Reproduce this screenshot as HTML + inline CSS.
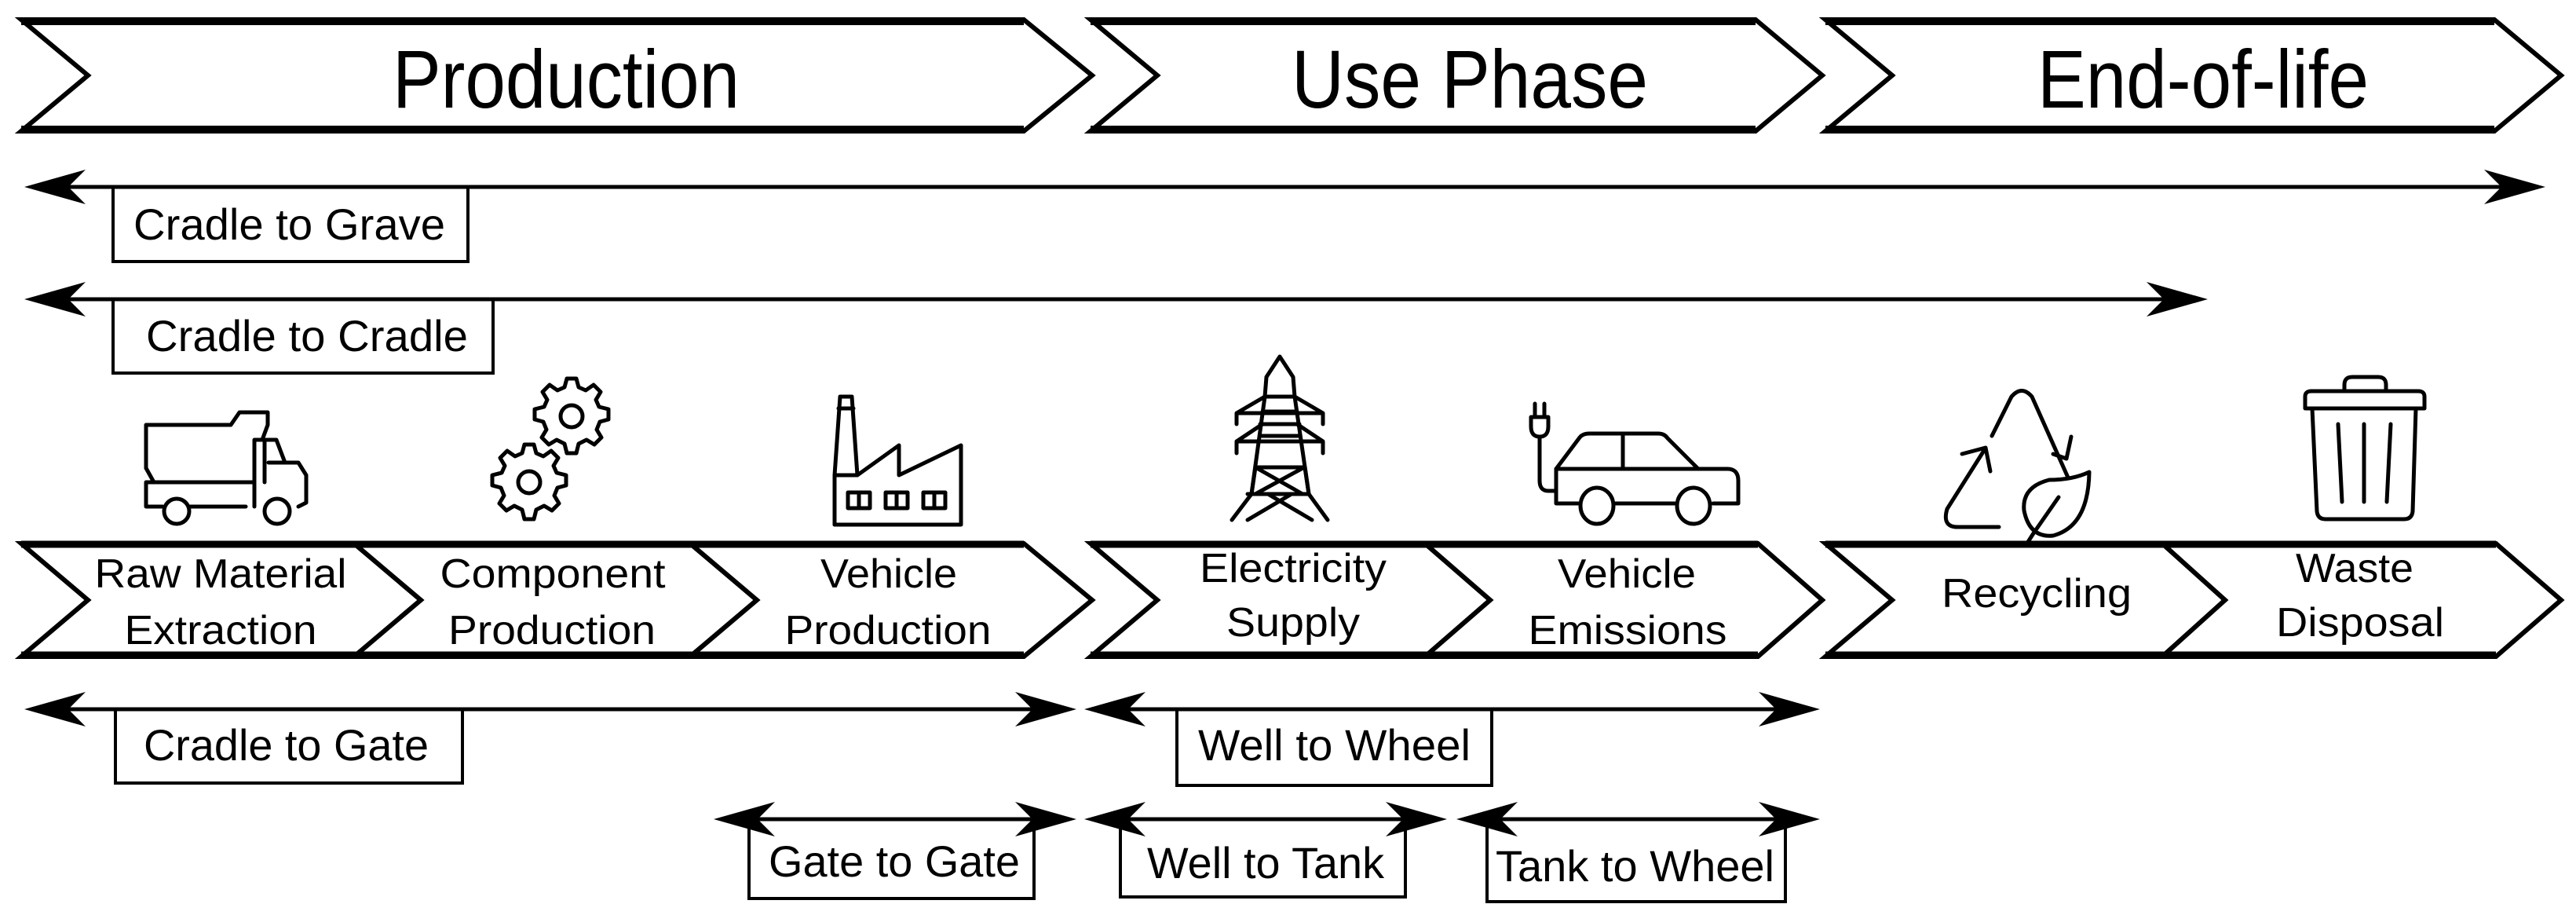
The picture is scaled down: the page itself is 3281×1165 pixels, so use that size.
<!DOCTYPE html>
<html><head><meta charset="utf-8"><style>
html,body{margin:0;padding:0;background:#fff;}
svg{display:block;}
text{font-family:"Liberation Sans",sans-serif;fill:#000;}
</style></head><body>
<svg width="3281" height="1165" viewBox="0 0 3281 1165" xmlns="http://www.w3.org/2000/svg">
<defs>
<path id="ahR" d="M0,0 L-78,-22 L-56,0 L-78,22 Z"/>
<path id="ahL" d="M0,0 L78,-22 L56,0 L78,22 Z"/>
</defs>
<g fill="#fff" stroke="#000" stroke-width="6" stroke-linejoin="miter">
<polygon points="27,25 1304,25 1391,96 1304,167 27,167 112,96"/>
<polygon points="1389,25 2236,25 2321,96 2236,167 1389,167 1474,96"/>
<polygon points="2325,25 3177,25 3262,96 3177,167 2325,167 2410,96"/>
</g>
<g stroke="#000" stroke-width="10">
<line x1="27" y1="27" x2="1304" y2="27"/><line x1="27" y1="165" x2="1304" y2="165"/>
<line x1="1389" y1="27" x2="2236" y2="27"/><line x1="1389" y1="165" x2="2236" y2="165"/>
<line x1="2325" y1="27" x2="3177" y2="27"/><line x1="2325" y1="165" x2="3177" y2="165"/>
</g>
<text x="721" y="137" font-size="105" text-anchor="middle" textLength="442" lengthAdjust="spacingAndGlyphs">Production</text>
<text x="1872" y="137" font-size="105" text-anchor="middle" textLength="454" lengthAdjust="spacingAndGlyphs">Use Phase</text>
<text x="2806" y="137" font-size="105" text-anchor="middle" textLength="422" lengthAdjust="spacingAndGlyphs">End-of-life</text>

<g fill="#fff" stroke="#000" stroke-width="6">
<polygon points="27,692 451,692 536,764 451,836 27,836 112,764"/>
<polygon points="451,692 879,692 964,764 879,836 451,836 536,764"/>
<polygon points="879,692 1304,692 1391,764 1304,836 879,836 964,764"/>
<polygon points="1389,692 1815,692 1898,764 1815,836 1389,836 1474,764"/>
<polygon points="1815,692 2239,692 2321,764 2239,836 1815,836 1898,764"/>
<polygon points="2325,692 2754,692 2834,764 2754,836 2325,836 2410,764"/>
<polygon points="2754,692 3179,692 3262,764 3179,836 2754,836 2834,764"/>
</g>
<g stroke="#000" stroke-width="9">
<line x1="27" y1="693" x2="1304" y2="693"/><line x1="27" y1="834" x2="1304" y2="834"/>
<line x1="1389" y1="693" x2="2239" y2="693"/><line x1="1389" y1="834" x2="2239" y2="834"/>
<line x1="2325" y1="693" x2="3179" y2="693"/><line x1="2325" y1="834" x2="3179" y2="834"/>
</g>
<g font-size="52" text-anchor="middle">
<text x="281" y="748" textLength="321" lengthAdjust="spacingAndGlyphs">Raw Material</text>
<text x="281" y="820" textLength="245" lengthAdjust="spacingAndGlyphs">Extraction</text>
<text x="704" y="748" textLength="287" lengthAdjust="spacingAndGlyphs">Component</text>
<text x="703" y="820" textLength="264" lengthAdjust="spacingAndGlyphs">Production</text>
<text x="1132" y="748" textLength="174" lengthAdjust="spacingAndGlyphs">Vehicle</text>
<text x="1131" y="820" textLength="263" lengthAdjust="spacingAndGlyphs">Production</text>
<text x="1647" y="741" textLength="238" lengthAdjust="spacingAndGlyphs">Electricity</text>
<text x="1647" y="810" textLength="170" lengthAdjust="spacingAndGlyphs">Supply</text>
<text x="2072" y="748" textLength="176" lengthAdjust="spacingAndGlyphs">Vehicle</text>
<text x="2073" y="820" textLength="253" lengthAdjust="spacingAndGlyphs">Emissions</text>
<text x="2594" y="773" textLength="242" lengthAdjust="spacingAndGlyphs">Recycling</text>
<text x="2999" y="741" textLength="150" lengthAdjust="spacingAndGlyphs">Waste</text>
<text x="3006" y="810" textLength="214" lengthAdjust="spacingAndGlyphs">Disposal</text>
</g>

<g stroke="#000" stroke-width="5">
<line x1="60" y1="238" x2="3210" y2="238"/>
<line x1="60" y1="381" x2="2780" y2="381"/>
<line x1="60" y1="903" x2="1340" y2="903"/>
<line x1="1410" y1="903" x2="2290" y2="903"/>
<line x1="940" y1="1043" x2="1340" y2="1043"/>
<line x1="1410" y1="1043" x2="1815" y2="1043"/>
<line x1="1885" y1="1043" x2="2290" y2="1043"/>
</g>
<g fill="#000">
<use href="#ahL" x="31" y="238"/><use href="#ahR" x="3242" y="238"/>
<use href="#ahL" x="31" y="381"/><use href="#ahR" x="2812" y="381"/>
<use href="#ahL" x="31" y="903"/><use href="#ahR" x="1371" y="903"/>
<use href="#ahL" x="1381" y="903"/><use href="#ahR" x="2318" y="903"/>
<use href="#ahL" x="909" y="1043"/><use href="#ahR" x="1371" y="1043"/>
<use href="#ahL" x="1381" y="1043"/><use href="#ahR" x="1843" y="1043"/>
<use href="#ahL" x="1855" y="1043"/><use href="#ahR" x="2318" y="1043"/>
</g>
<g fill="none" stroke="#000" stroke-width="4">
<polyline points="144,238 144,333 596,333 596,238"/>
<polyline points="144,381 144,475 628,475 628,381"/>
<polyline points="147,903 147,997 589,997 589,903"/>
<polyline points="1499,903 1499,1000 1900,1000 1900,903"/>
<polyline points="954,1043 954,1144 1317,1144 1317,1043"/>
<polyline points="1427,1043 1427,1142 1790,1142 1790,1043"/>
<polyline points="1894,1043 1894,1148 2274,1148 2274,1043"/>
</g>
<g font-size="56">
<text x="170" y="305" textLength="397" lengthAdjust="spacingAndGlyphs">Cradle to Grave</text>
<text x="186" y="447" textLength="410" lengthAdjust="spacingAndGlyphs">Cradle to Cradle</text>
<text x="183" y="968" textLength="363" lengthAdjust="spacingAndGlyphs">Cradle to Gate</text>
<text x="1526" y="968" textLength="347" lengthAdjust="spacingAndGlyphs">Well to Wheel</text>
<text x="979" y="1116" textLength="320" lengthAdjust="spacingAndGlyphs">Gate to Gate</text>
<text x="1461" y="1118" textLength="302" lengthAdjust="spacingAndGlyphs">Well to Tank</text>
<text x="1905" y="1122" textLength="355" lengthAdjust="spacingAndGlyphs">Tank to Wheel</text>
</g>

<g fill="none" stroke="#000" stroke-width="5" stroke-linejoin="round" stroke-linecap="round">
<!-- truck -->
<path d="M186,596 L186,541 L294,541 L305,525 L341,525 L341,541 L334,560"/>
<path d="M186,596 L196,614 L324,614 L324,560 L352,560 L363,589 L380,589 L390,605 L390,640 L380,645"/>
<path d="M196,614 L186,614 L186,645 L207,645"/>
<path d="M240,645 L313,645"/>
<path d="M324,614 L324,645"/>
<path d="M337,560 L337,614"/>
<path d="M342,589 L363,589"/>
<ellipse cx="225" cy="651" rx="16" ry="16"/>
<ellipse cx="353" cy="651" rx="16" ry="16"/>
<!-- gears -->
<g transform="translate(728,530)">
<circle r="14"/>
<path d="M-6,-48 L6,-48 L9,-37 L18,-33 L28,-40 L37,-31 L31,-21 L35,-12 L47,-9 L47,4 L36,7 L32,17 L38,27 L29,36 L19,30 L9,35 L6,47 L-6,47 L-9,35 L-19,30 L-29,36 L-38,27 L-32,17 L-36,7 L-47,4 L-47,-9 L-35,-12 L-31,-21 L-37,-31 L-28,-40 L-18,-33 L-9,-37 Z"/>
</g>
<g transform="translate(674,614)">
<circle r="14"/>
<path d="M-6,-48 L6,-48 L9,-37 L18,-33 L28,-40 L37,-31 L31,-21 L35,-12 L47,-9 L47,4 L36,7 L32,17 L38,27 L29,36 L19,30 L9,35 L6,47 L-6,47 L-9,35 L-19,30 L-29,36 L-38,27 L-32,17 L-36,7 L-47,4 L-47,-9 L-35,-12 L-31,-21 L-37,-31 L-28,-40 L-18,-33 L-9,-37 Z"/>
</g>
<!-- factory -->
<path d="M1063,668 L1063,605 L1070,505 L1085,505 L1092,605 L1063,605"/>
<path d="M1092,605 L1145,567 L1145,605 L1224,567 L1224,668 L1063,668"/>
<line x1="1068" y1="520" x2="1087" y2="520"/>
<rect x="1080" y="627" width="28" height="20"/><rect x="1128" y="627" width="28" height="20"/><rect x="1176" y="627" width="28" height="20"/>
<line x1="1094" y1="627" x2="1094" y2="647"/><line x1="1142" y1="627" x2="1142" y2="647"/><line x1="1190" y1="627" x2="1190" y2="647"/>
<!-- tower -->
<path d="M1613,480 L1630,454 L1647,480 L1649,505 L1667,629 L1691,662 M1613,480 L1611,505 L1594,629 L1569,662"/>
<path d="M1589,629 L1667,629 M1599,595 L1659,629 M1661,595 L1599,629 M1589,662 L1645,629 M1671,662 L1615,629"/>
<path d="M1602,595 L1662,595 M1594,629 L1599,595 L1662,595 L1667,629"/>
<path d="M1608,524 L1652,524 M1611,505 L1649,505 M1611,505 L1575,526 L1685,526 L1649,505 M1575,526 L1575,540 M1685,526 L1685,540"/>
<path d="M1606,555 L1654,555 M1608,540 L1575,562 L1685,562 L1652,540 M1575,562 L1575,577 M1685,562 L1685,577 M1605,540 L1655,540"/>
<!-- car -->
<path d="M1982,597 L2012,557 Q2016,552 2024,552 L2112,552 Q2120,552 2124,558 L2163,597 L2200,597 Q2214,597 2214,612 L2214,641 L2182,641"/>
<path d="M1982,597 L1982,641 L2010,641 M2058,641 L2133,641"/>
<line x1="1982" y1="597" x2="2163" y2="597"/>
<line x1="2067" y1="552" x2="2067" y2="597"/>
<ellipse cx="2034" cy="644" rx="21" ry="23"/><ellipse cx="2157" cy="644" rx="21" ry="23"/>
<path d="M1982,625 L1972,625 Q1961,625 1961,612 L1961,556"/>
<path d="M1950,531 L1950,543 Q1950,556 1961,556 Q1972,556 1972,543 L1972,531 Z M1955,531 L1955,514 M1967,531 L1967,514"/>
<!-- recycle -->
<path d="M2537,555 L2562,505 Q2575,490 2588,505 L2634,608"/>
<path d="M2615,578 L2632,584 L2638,556"/>
<path d="M2535,600 L2529,570 L2499,578"/>
<path d="M2528,572 L2480,648 Q2473,672 2495,671 L2546,671"/>
<path d="M2661,601 Q2640,611 2610,611 Q2575,620 2578,650 Q2585,685 2615,682 Q2660,670 2661,601 Z"/>
<path d="M2622,633 L2590,679 L2583,690"/>
<!-- trash -->
<path d="M2986,497 L2986,490 Q2986,480 2996,480 L3029,480 Q3039,480 3039,490 L3039,497"/>
<path d="M2936,520 L2936,505 Q2936,498 2944,498 L3080,498 Q3088,498 3088,505 L3088,520 Z"/>
<path d="M2945,520 L2951,651 Q2952,661 2962,661 L3062,661 Q3072,661 3073,651 L3077,520"/>
<line x1="2978" y1="540" x2="2983" y2="639"/><line x1="3011" y1="540" x2="3011" y2="639"/><line x1="3045" y1="540" x2="3040" y2="639"/>
</g>
</svg>
</body></html>
